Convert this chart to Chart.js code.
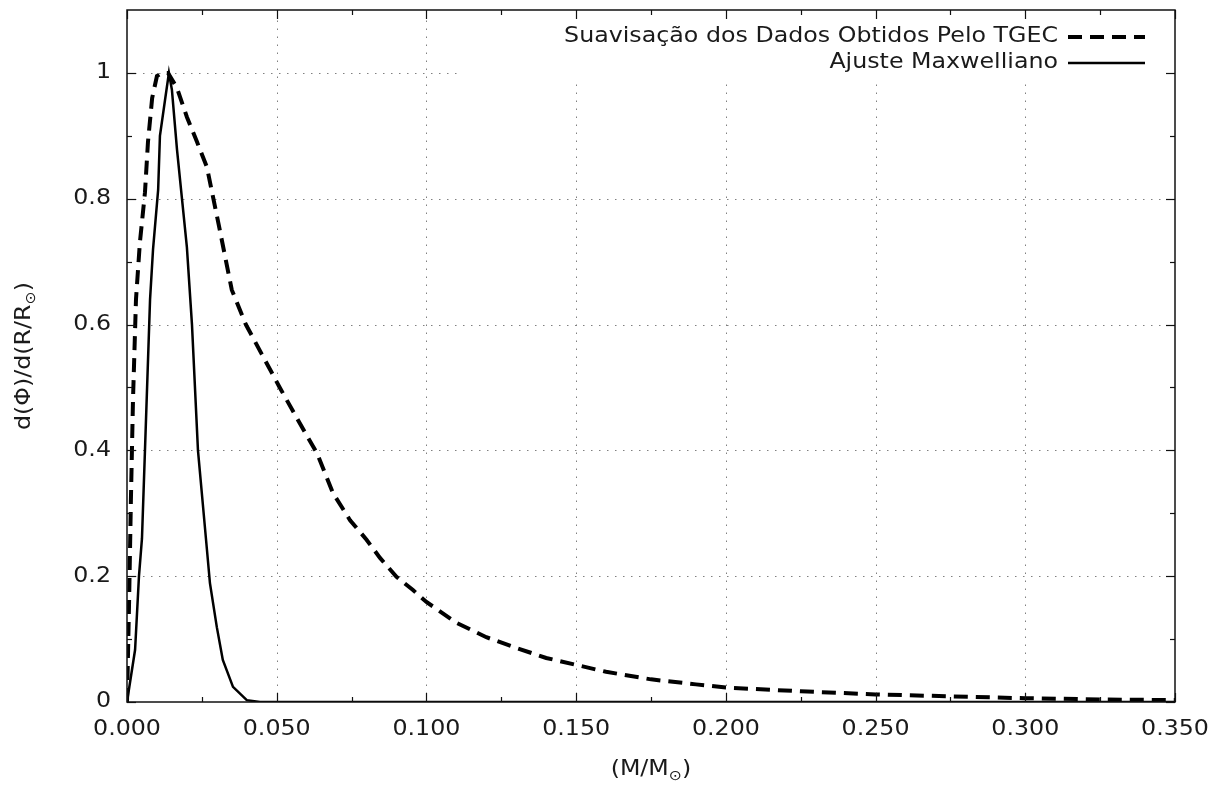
<!DOCTYPE html>
<html>
<head>
<meta charset="utf-8">
<script src="https://cdn.jsdelivr.net/npm/chart.js@4.4.1/dist/chart.umd.min.js"></script>
<style>
  html, body { margin: 0; padding: 0; background: #fff; }
  #wrap { width: 1218px; height: 789px; }
</style>
</head>
<body>
<div id="wrap"><canvas id="cv" width="1218" height="789"></canvas></div>
<script>
// suavizacao dos dados (TGEC)
let tgecX = [0, 0.0007, 0.0013, 0.002, 0.003, 0.0043, 0.006, 0.007, 0.0084, 0.010, 0.0117, 0.0137,
  0.0167, 0.020, 0.0234, 0.0267, 0.031, 0.035, 0.0397, 0.045, 0.051, 0.057, 0.0635,
  0.0688, 0.0745, 0.080, 0.0845, 0.090, 0.0955, 0.100, 0.11, 0.12, 0.13, 0.14, 0.15, 0.16,
  0.175, 0.19, 0.2, 0.225, 0.25, 0.275, 0.3, 0.325, 0.35];
let tgecY = [0, 0.16, 0.32, 0.48, 0.64, 0.73, 0.81, 0.89, 0.96, 0.995, 1.0, 1.0,
  0.976, 0.93, 0.89, 0.85, 0.75, 0.655, 0.60, 0.553, 0.50, 0.449, 0.395,
  0.332, 0.289, 0.258, 0.229, 0.199, 0.178, 0.159, 0.126, 0.103, 0.086, 0.070, 0.059, 0.048,
  0.036, 0.028, 0.023, 0.017, 0.012, 0.009, 0.006, 0.004, 0.003];

// ajuste maxwelliano
let maxX = [0, 0.0027, 0.004, 0.005, 0.006, 0.0077, 0.0087, 0.0104, 0.011, 0.0127, 0.014, 0.015,
  0.0167, 0.0184, 0.020, 0.0217, 0.0237, 0.0267, 0.0277, 0.030, 0.032, 0.0354, 0.040, 0.0444,
  0.05, 0.1, 0.15, 0.2, 0.25, 0.3, 0.35];
let maxY = [0, 0.083, 0.2, 0.26, 0.4, 0.64, 0.72, 0.814, 0.9, 0.957, 1.0, 0.973,
  0.878, 0.798, 0.723, 0.6, 0.4, 0.242, 0.189, 0.119, 0.067, 0.024, 0.003, 0,
  0, 0, 0, 0, 0, 0, 0];

let seriesNames = ['Suavisação dos Dados Obtidos Pelo TGEC', 'Ajuste Maxwelliano'];
let xTicks = [0, 0.05, 0.1, 0.15, 0.2, 0.25, 0.3, 0.35];
let xTickLabels = ['0.000', '0.050', '0.100', '0.150', '0.200', '0.250', '0.300', '0.350'];
let yTicks = [0, 0.2, 0.4, 0.6, 0.8, 1];
let yTickLabels = ['0', '0.2', '0.4', '0.6', '0.8', '1'];

const FONT = '"DejaVu Sans", sans-serif';
const FSIZE = 21;
const SX = 1.13;   // o texto do original e mais largo
const TXT = '#1a1a1a';

function pts(xs, ys) {
  return xs.map((x, i) => ({ x: x, y: ys[i] }));
}

// texto esticado na horizontal
function txt(ctx, s, x, y, align, size) {
  ctx.save();
  ctx.font = (size || FSIZE) + 'px ' + FONT;
  ctx.textAlign = align;
  ctx.textBaseline = 'middle';
  ctx.translate(x, y);
  ctx.scale(SX, 1);
  ctx.fillText(s, 0, 0);
  ctx.restore();
}

function subText(ctx, parts, cx, cy) {
  let w = 0;
  parts.forEach(p => { ctx.font = (p.sub ? 14 : FSIZE) + 'px ' + FONT; w += ctx.measureText(p.t).width * SX; });
  let cur = cx - w / 2;
  parts.forEach(p => {
    txt(ctx, p.t, cur, cy + (p.sub ? 6 : 0), 'left', p.sub ? 14 : FSIZE);
    ctx.font = (p.sub ? 14 : FSIZE) + 'px ' + FONT;
    cur += ctx.measureText(p.t).width * SX;
  });
}

// grade pontilhada + caixa da legenda por baixo das curvas
const gnuGrid = {
  id: 'gnuGrid',
  beforeDatasetsDraw(chart) {
    const { ctx, chartArea: a, scales: { x, y } } = chart;
    ctx.save();
    ctx.strokeStyle = '#808080';
    ctx.lineWidth = 1;
    ctx.setLineDash([1.5, 6.5]);
    xTicks.forEach(v => {
      const px = Math.round(x.getPixelForValue(v)) + 0.5;
      if (px <= a.left + 1 || px >= a.right - 1) return;
      ctx.beginPath(); ctx.moveTo(px, a.bottom); ctx.lineTo(px, a.top); ctx.stroke();
    });
    yTicks.forEach(v => {
      const py = Math.round(y.getPixelForValue(v)) + 0.5;
      if (py >= a.bottom - 1) return;
      ctx.beginPath(); ctx.moveTo(a.left, py); ctx.lineTo(a.right, py); ctx.stroke();
    });
    ctx.setLineDash([]);
    // key opaca
    ctx.fillStyle = '#fff';
    ctx.fillRect(460, a.top, a.right - 460, 74);
    ctx.restore();
  },
  afterDatasetsDraw(chart) {
    const { ctx, chartArea: a, scales: { x, y } } = chart;
    ctx.save();
    ctx.strokeStyle = '#111';
    ctx.lineWidth = 1.5;
    ctx.strokeRect(a.left, a.top, a.right - a.left, a.bottom - a.top);

    // marcas (maiores e menores) nos 4 lados
    ctx.lineWidth = 1.2;
    const tick = (x1, y1, x2, y2) => { ctx.beginPath(); ctx.moveTo(x1, y1); ctx.lineTo(x2, y2); ctx.stroke(); };
    for (let i = 0; i <= 14; i++) {
      const px = Math.round(x.getPixelForValue(i * 0.025)) + 0.5;
      const len = i % 2 === 0 ? 9 : 5;
      tick(px, a.bottom, px, a.bottom - len);
      tick(px, a.top, px, a.top + len);
    }
    for (let i = 0; i <= 10; i++) {
      const py = Math.round(y.getPixelForValue(i * 0.1)) + 0.5;
      const len = i % 2 === 0 ? 9 : 5;
      tick(a.left, py, a.left + len, py);
      tick(a.right, py, a.right - len, py);
    }

    ctx.fillStyle = TXT;
    // rotulos dos eixos
    xTicks.forEach((v, i) => txt(ctx, xTickLabels[i], x.getPixelForValue(v), 730, 'center'));
    yTicks.forEach((v, i) => txt(ctx, yTickLabels[i], 111, y.getPixelForValue(v), 'right'));

    // legenda
    chart.data.datasets.forEach((ds, i) => {
      const ly = 37 + i * 26;
      ctx.fillStyle = TXT;
      txt(ctx, ds.label, 1058, ly, 'right');
      ctx.strokeStyle = '#000';
      ctx.lineWidth = ds.borderWidth;
      ctx.setLineDash(ds.borderDash || []);
      ctx.beginPath(); ctx.moveTo(1068, ly); ctx.lineTo(1145, ly); ctx.stroke();
    });
    ctx.setLineDash([]);

    // titulos dos eixos com subscrito
    ctx.fillStyle = TXT;
    subText(ctx, [{ t: '(M/M' }, { t: '⊙', sub: true }, { t: ')' }], (a.left + a.right) / 2, 770);
    ctx.save();
    ctx.translate(25, (a.top + a.bottom) / 2);
    ctx.rotate(-Math.PI / 2);
    subText(ctx, [{ t: 'd(Φ)/d(R/R' }, { t: '⊙', sub: true }, { t: ')' }], 0, 0);
    ctx.restore();
    ctx.restore();
  }
};

const ctx = document.getElementById('cv').getContext('2d');
new Chart(ctx, {
  type: 'line',
  data: {
    datasets: [{
      label: seriesNames[0],
      data: pts(tgecX, tgecY),
      borderColor: '#000',
      borderWidth: 4,
      borderDash: [14, 8],
      pointRadius: 0,
      tension: 0,
      fill: false
    }, {
      label: seriesNames[1],
      data: pts(maxX, maxY),
      borderColor: '#000',
      borderWidth: 2.5,
      pointRadius: 0,
      tension: 0,
      fill: false
    }]
  },
  options: {
    responsive: false,
    animation: false,
    layout: { padding: { left: 0, top: 10, right: 43, bottom: 0 } },
    plugins: { legend: { display: false }, tooltip: { enabled: false } },
    scales: {
      x: {
        type: 'linear',
        min: 0, max: 0.35,
        afterFit: s => { s.height = 87; s.paddingLeft = 0; s.paddingRight = 0; },
        grid: { display: false, drawTicks: false },
        border: { display: false },
        ticks: { display: false }
      },
      y: {
        type: 'linear',
        min: 0, max: 1.1,
        afterFit: s => { s.width = 127; s.paddingTop = 0; s.paddingBottom = 0; },
        grid: { display: false, drawTicks: false },
        border: { display: false },
        ticks: { display: false }
      }
    }
  },
  plugins: [gnuGrid]
});
</script>
</body>
</html>
